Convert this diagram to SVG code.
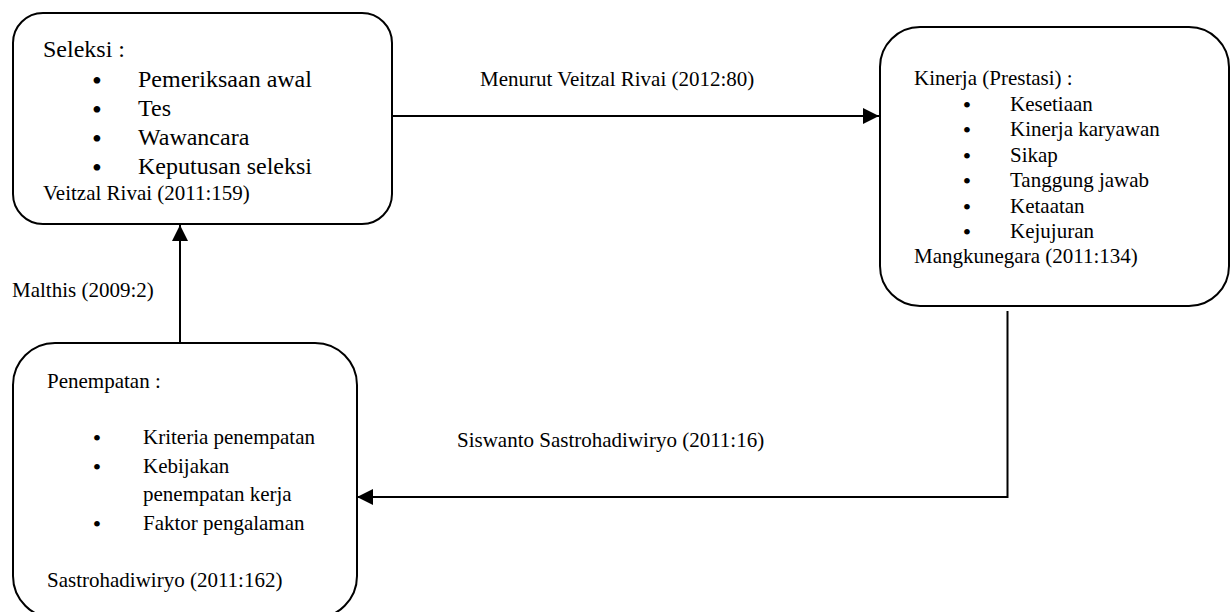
<svg xmlns="http://www.w3.org/2000/svg" width="1232" height="612" viewBox="0 0 1232 612">
<style>
.box{fill:#fff;stroke:#000;stroke-width:2}
.t{font-family:"Liberation Serif","Times New Roman",serif;fill:#000}
.s{font-size:21px}
.b{font-size:24px}
.bb{font-size:28px;text-anchor:middle}
.bs{font-size:24px;text-anchor:middle}
.c{fill:none;stroke:#000;stroke-width:2}
</style>
<defs>
<marker id="ah" markerWidth="16" markerHeight="16" viewBox="0 0 16 16" refX="16" refY="8" orient="auto" markerUnits="userSpaceOnUse">
<path d="M0,0 L16,8 L0,16 Z" fill="#000"/>
</marker>
</defs>
<rect width="1232" height="612" fill="#fff"/>
<g id="connectors">
<path class="c" d="M392,116 H879" marker-end="url(#ah)"/>
<path class="c" d="M1007.5,311 V497 H357" marker-end="url(#ah)"/>
<path class="c" d="M180,343 V225" marker-end="url(#ah)"/>
<text class="t s" x="480" y="86">Menurut Veitzal Rivai (2012:80)</text>
<text class="t s" x="12" y="297">Malthis (2009:2)</text>
<text class="t s" x="457" y="447">Siswanto Sastrohadiwiryo (2011:16)</text>
</g>
<g id="seleksi">
<rect class="box" x="13" y="13" width="379" height="211" rx="30" ry="30"/>
<text class="t b" x="43" y="57">Seleksi :</text>
<text class="t bb" x="97" y="90">•</text>
<text class="t b" x="138" y="87">Pemeriksaan awal</text>
<text class="t bb" x="97" y="119">•</text>
<text class="t b" x="138" y="116">Tes</text>
<text class="t bb" x="97" y="148">•</text>
<text class="t b" x="138" y="145">Wawancara</text>
<text class="t bb" x="97" y="177">•</text>
<text class="t b" x="138" y="174">Keputusan seleksi</text>
<text class="t s" x="43" y="200">Veitzal Rivai (2011:159)</text>
</g>
<g id="kinerja">
<rect class="box" x="880" y="27" width="349" height="279" rx="40" ry="40"/>
<text class="t s" x="914" y="85">Kinerja (Prestasi) :</text>
<text class="t bs" x="967" y="113">•</text>
<text class="t s" x="1010" y="111">Kesetiaan</text>
<text class="t bs" x="967" y="138">•</text>
<text class="t s" x="1010" y="136">Kinerja karyawan</text>
<text class="t bs" x="967" y="164">•</text>
<text class="t s" x="1010" y="162">Sikap</text>
<text class="t bs" x="967" y="189">•</text>
<text class="t s" x="1010" y="187">Tanggung jawab</text>
<text class="t bs" x="967" y="215">•</text>
<text class="t s" x="1010" y="213">Ketaatan</text>
<text class="t bs" x="967" y="240">•</text>
<text class="t s" x="1010" y="238">Kejujuran</text>
<text class="t s" x="914" y="263">Mangkunegara (2011:134)</text>
</g>
<g id="penempatan">
<rect class="box" x="13" y="343" width="344" height="275" rx="42" ry="42"/>
<text class="t s" x="47" y="388">Penempatan :</text>
<text class="t bs" x="97" y="446">•</text>
<text class="t s" x="143" y="444">Kriteria penempatan</text>
<text class="t bs" x="97" y="475">•</text>
<text class="t s" x="143" y="473">Kebijakan</text>
<text class="t s" x="143" y="501">penempatan kerja</text>
<text class="t bs" x="97" y="532">•</text>
<text class="t s" x="143" y="530">Faktor pengalaman</text>
<text class="t s" x="47" y="587">Sastrohadiwiryo (2011:162)</text>
</g>
</svg>
